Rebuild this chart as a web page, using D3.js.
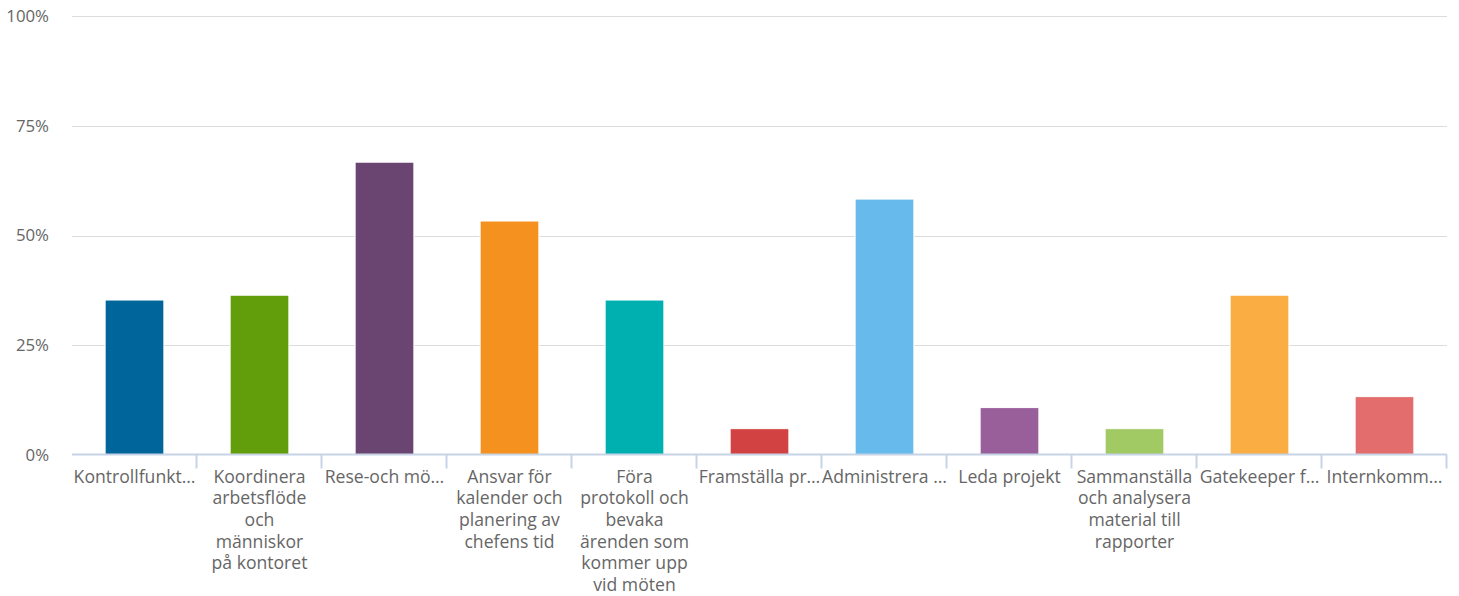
<!DOCTYPE html>
<html>
<head>
<meta charset="utf-8">
<script src="https://cdn.jsdelivr.net/npm/d3@7"></script>
<style>
  html, body { margin: 0; padding: 0; background: #fff; }
  svg { display: block; font-family: "Open Sans", sans-serif; }
</style>
</head>
<body>
<svg id="chart" width="1459" height="596"></svg>
<script>
// Answer options (as displayed: line breaks marked with \n, long ones shortened with an ellipsis)
const categories = [
  "Kontrollfunkt…",
  "Koordinera\narbetsflöde\noch\nmänniskor\npå kontoret",
  "Rese-och mö…",
  "Ansvar för\nkalender och\nplanering av\nchefens tid",
  "Föra\nprotokoll och\nbevaka\närenden som\nkommer upp\nvid möten",
  "Framställa pr…",
  "Administrera …",
  "Leda projekt",
  "Sammanställa\noch analysera\nmaterial till\nrapporter",
  "Gatekeeper f…",
  "Internkomm…"
];

// Share of respondents (%)
const values = [35.3, 36.4, 66.7, 53.3, 35.3, 6.0, 58.3, 10.8, 6.0, 36.4, 13.3];

const colors = [
  "#00659b", "#629d0c", "#6b4571", "#f5921f", "#00b0b0", "#d24242",
  "#66bbec", "#985f9b", "#a1c964", "#f9ad42", "#e36d6d"
];

const yTicks = [0, 25, 50, 75, 100];

const svg = d3.select("#chart");
const margin = { left: 72, right: 12, top: 16, bottom: 141 };
const W = 1459, H = 596;
const fontSize = 17.6;
const axisFontSize = 16.8;

const x = d3.scaleBand()
  .domain(categories)
  .range([margin.left, W - margin.right])
  .paddingInner(0.53)
  .paddingOuter(0.265);

const y = d3.scaleLinear()
  .domain([0, 100])
  .range([H - margin.bottom, margin.top]);

// horizontal gridlines
svg.append("g")
  .selectAll("line")
  .data(yTicks.filter(d => d > 0))
  .join("line")
  .attr("x1", margin.left)
  .attr("x2", W - margin.right)
  .attr("y1", d => Math.round(y(d)) + 0.5)
  .attr("y2", d => Math.round(y(d)) + 0.5)
  .attr("stroke", "#dcdcdc")
  .attr("stroke-width", 1);

// y labels
svg.append("g")
  .selectAll("text")
  .data(yTicks)
  .join("text")
  .attr("x", 49)
  .attr("y", d => y(d))
  .attr("dy", "0.35em")
  .attr("text-anchor", "end")
  .attr("font-size", axisFontSize)
  .attr("fill", "#666")
  .text(d => d + "%");

// bars
svg.append("g")
  .selectAll("rect")
  .data(values)
  .join("rect")
  .attr("x", (d, i) => x(categories[i]))
  .attr("width", x.bandwidth())
  .attr("y", d => y(d))
  .attr("height", d => y(0) - y(d))
  .attr("fill", (d, i) => colors[i])
  .attr("stroke", "#fff")
  .attr("stroke-width", 1);

// category axis line and separators
const step = x.step();
const axisY = Math.round(y(0)) - 0.5;
svg.append("line")
  .attr("x1", margin.left)
  .attr("x2", W - margin.right)
  .attr("y1", axisY)
  .attr("y2", axisY)
  .attr("stroke", "#c6d4e6")
  .attr("stroke-width", 2);

svg.append("g")
  .selectAll("line")
  .data(categories)
  .join("line")
  .attr("x1", (d, i) => Math.round(margin.left + step * (i + 1)) - 0.5)
  .attr("x2", (d, i) => Math.round(margin.left + step * (i + 1)) - 0.5)
  .attr("y1", axisY)
  .attr("y2", axisY + 14)
  .attr("stroke", "#c6d4e6")
  .attr("stroke-width", 2);

// category labels, one tspan per line
const lineH = 21.7;
svg.append("g")
  .selectAll("text")
  .data(categories)
  .join("text")
  .attr("text-anchor", "middle")
  .attr("font-size", fontSize)
  .attr("fill", "#666")
  .attr("x", d => x(d) + x.bandwidth() / 2)
  .attr("y", y(0) + 27.5)
  .each(function(d) {
    const t = d3.select(this);
    const cx = +t.attr("x");
    d.split("\n").forEach((ln, k) => {
      t.append("tspan").attr("x", cx).attr("dy", k === 0 ? 0 : lineH).text(ln);
    });
  });
</script>
</body>
</html>
